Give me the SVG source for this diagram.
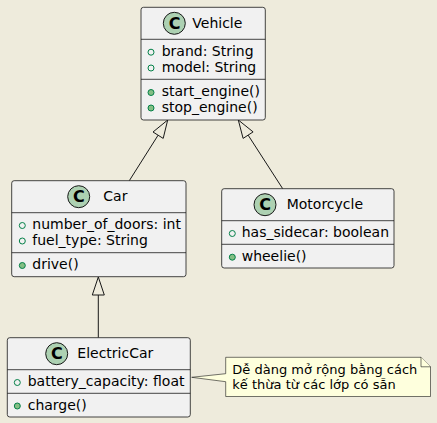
<svg xmlns="http://www.w3.org/2000/svg" width="437" height="423" viewBox="0 0 437 423">
<style>
.bg{fill:#EEEBDC}
.box{fill:#F1F1F1;stroke:#181818;stroke-width:0.8}
.sep{stroke:#181818;stroke-width:0.8}
.ci{fill:#ADD1B2;stroke:#181818;stroke-width:1}
.cl{font-family:"DejaVu Sans",sans-serif;font-size:16px;font-weight:bold;fill:#000;text-anchor:middle}
.t{font-family:"DejaVu Sans",sans-serif;font-size:14px;fill:#000}
.n{font-family:"DejaVu Sans",sans-serif;font-size:13px;fill:#000}
.va{fill:none;stroke:#038048;stroke-width:1}
.vm{fill:#84BE84;stroke:#038048;stroke-width:1}
.ln{fill:none;stroke:#181818;stroke-width:1}
.tri{fill:none;stroke:#181818;stroke-width:1}
.note{fill:#FEFFDD;stroke:#181818;stroke-width:0.6}
</style>
<rect class="bg" x="0" y="0" width="437" height="423"/>
<g id="connectors">
<line class="ln" x1="129.3" y1="180.7" x2="158.1" y2="135.2"/>
<polygon class="tri" points="167.7,120 163.2,138.4 153,132"/>
<line class="ln" x1="282.7" y1="188.7" x2="248.1" y2="135.1"/>
<polygon class="tri" points="238.3,120 253.1,131.9 243.1,138.4"/>
<line class="ln" x1="98.3" y1="337.7" x2="98.3" y2="295"/>
<polygon class="tri" points="98.3,277 104.3,295 92.3,295"/>
</g>
<g id="Vehicle">
<rect class="box" x="141" y="7.3" width="124.3" height="112.7" rx="2.5"/>
<circle class="ci" cx="174.3" cy="23.3" r="11"/>
<text class="cl" x="174.5" y="29">C</text>
<text class="t" x="192.3" y="28">Vehicle</text>
<line class="sep" x1="141" y1="39.3" x2="265.3" y2="39.3"/>
<circle class="va" cx="151" cy="52.2" r="3"/>
<text class="t" x="161.7" y="55.7">brand: String</text>
<circle class="va" cx="151" cy="68" r="3"/>
<text class="t" x="161.7" y="71.5">model: String</text>
<line class="sep" x1="141" y1="79.3" x2="265.3" y2="79.3"/>
<circle class="vm" cx="151" cy="92.5" r="3"/>
<text class="t" x="161.7" y="96">start_engine()</text>
<circle class="vm" cx="151" cy="108" r="3"/>
<text class="t" x="161.7" y="111.5">stop_engine()</text>
</g>
<g id="Car">
<rect class="box" x="11.7" y="180.7" width="174.3" height="96" rx="2.5"/>
<circle class="ci" cx="78.7" cy="196.7" r="11"/>
<text class="cl" x="78.9" y="202.4">C</text>
<text class="t" x="103.3" y="201.4">Car</text>
<line class="sep" x1="11.7" y1="212.7" x2="186" y2="212.7"/>
<circle class="va" cx="22.3" cy="225.5" r="3"/>
<text class="t" x="32.3" y="229">number_of_doors: int</text>
<circle class="va" cx="22.3" cy="241" r="3"/>
<text class="t" x="32.3" y="244.5">fuel_type: String</text>
<line class="sep" x1="11.7" y1="252.7" x2="186" y2="252.7"/>
<circle class="vm" cx="22.3" cy="265.5" r="3"/>
<text class="t" x="32.3" y="269">drive()</text>
</g>
<g id="Motorcycle">
<rect class="box" x="221.7" y="188.7" width="172.3" height="79.3" rx="2.5"/>
<circle class="ci" cx="265" cy="204.7" r="11"/>
<text class="cl" x="265.2" y="210.4">C</text>
<text class="t" x="286.7" y="209.4">Motorcycle</text>
<line class="sep" x1="221.7" y1="220.7" x2="394" y2="220.7"/>
<circle class="va" cx="232.3" cy="233.5" r="3"/>
<text class="t" x="241.7" y="237">has_sidecar: boolean</text>
<line class="sep" x1="221.7" y1="244.3" x2="394" y2="244.3"/>
<circle class="vm" cx="232.3" cy="257.2" r="3"/>
<text class="t" x="241.7" y="260.7">wheelie()</text>
</g>
<g id="ElectricCar">
<rect class="box" x="7.3" y="337.7" width="183" height="79.3" rx="2.5"/>
<circle class="ci" cx="56.7" cy="353.7" r="11"/>
<text class="cl" x="56.9" y="359.4">C</text>
<text class="t" x="77.3" y="358.4">ElectricCar</text>
<line class="sep" x1="7.3" y1="369.7" x2="190.3" y2="369.7"/>
<circle class="va" cx="17.3" cy="382.5" r="3"/>
<text class="t" x="27.7" y="386">battery_capacity: float</text>
<line class="sep" x1="7.3" y1="393.3" x2="190.3" y2="393.3"/>
<circle class="vm" cx="17.3" cy="406" r="3"/>
<text class="t" x="27.7" y="409.6">charge()</text>
</g>
<g id="note">
<path class="note" d="M225.7,357.3 L421,357.3 L430.5,366.8 L430.5,396.5 L225.7,396.5 L225.7,381.7 L191.7,377.3 L225.7,373.7 Z"/>
<path class="note" d="M421,357.3 L421,366.8 L430.5,366.8"/>
<text class="n" x="232.3" y="373.8">Dễ dàng mở rộng bằng cách</text>
<text class="n" x="232.3" y="389">kế thừa từ các lớp có sẵn</text>
</g>
</svg>
